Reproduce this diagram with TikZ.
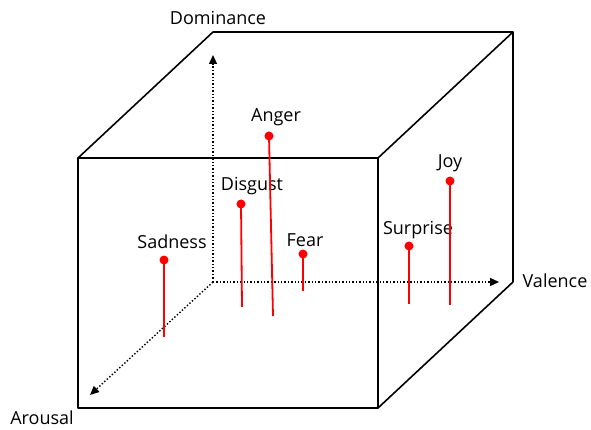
\documentclass[tikz,border=0pt]{standalone}
\usepackage{fontspec}
\setmainfont{Open Sans}
\usetikzlibrary{arrows.meta, positioning, calc}
\definecolor{emored}{HTML}{FF0000}

\tikzset{
  edge/.style={line width=1.6pt, line join=round},
  axis/.style={dotted, line width=1.4pt, -{Triangle[length=9pt, width=8pt]}},
  stem/.style={emored, line width=1.8pt},
  dot/.style={circle, fill=emored, inner sep=0pt, minimum size=9pt},
  lbl/.style={font=\fontsize{18}{21}\selectfont, inner sep=1pt}
}

\begin{document}
\begin{tikzpicture}[x=1pt, y=-1pt]
  \useasboundingbox (0,0) rectangle (591,430);

  %% Cube corners
  \coordinate (ftl) at (78,158);
  \coordinate (ftr) at (378,158);
  \coordinate (fbr) at (378,408);
  \coordinate (fbl) at (78,408);
  \coordinate (btl) at (213,32);
  \coordinate (btr) at (513,32);
  \coordinate (bbr) at (513,282);
  \coordinate (orig) at (213,282);

  %% Visible edges
  \draw[edge] (ftl) -- (ftr) -- (fbr) -- (fbl) -- cycle;
  \draw[edge] (ftl) -- (btl) -- (btr) -- (ftr);
  \draw[edge] (btr) -- (bbr) -- (fbr);

  %% Axes
  \coordinate (dtip) at (213,55);
  \coordinate (vtip) at (499,282);
  \coordinate (atip) at (90,395);
  \draw[axis] (orig) -- (dtip);
  \draw[axis] (orig) -- (vtip);
  \draw[axis] (orig) -- (atip);
  \node[lbl] (dom) at (218,18) {Dominance};
  \node[lbl] (val) at (555,281) {Valence};
  \node[lbl] (aro) at (42,418) {Arousal};

  %% Emotions: name/dot x/dot y/foot x/foot y/label x/label y
  \foreach \e/\dx/\dy/\fx/\fy/\lx/\ly in {
      Sadness/164/260/164/337/172/242,
      Disgust/241/204/242/307/252/186,
      Anger/269/136/273/316/276/117,
      Fear/303/254/303/291/305/240,
      Surprise/409/246/409/304/418/230,
      Joy/450/181/450/305/450/163} {
    \node[dot] (\e-dot) at (\dx,\dy) {};
    \coordinate (\e-foot) at (\fx,\fy);
    \draw[stem] (\e-dot.center) -- (\e-foot);
    \node[lbl] (\e-lbl) at (\lx,\ly) {\e};
  }
\end{tikzpicture}
\end{document}
